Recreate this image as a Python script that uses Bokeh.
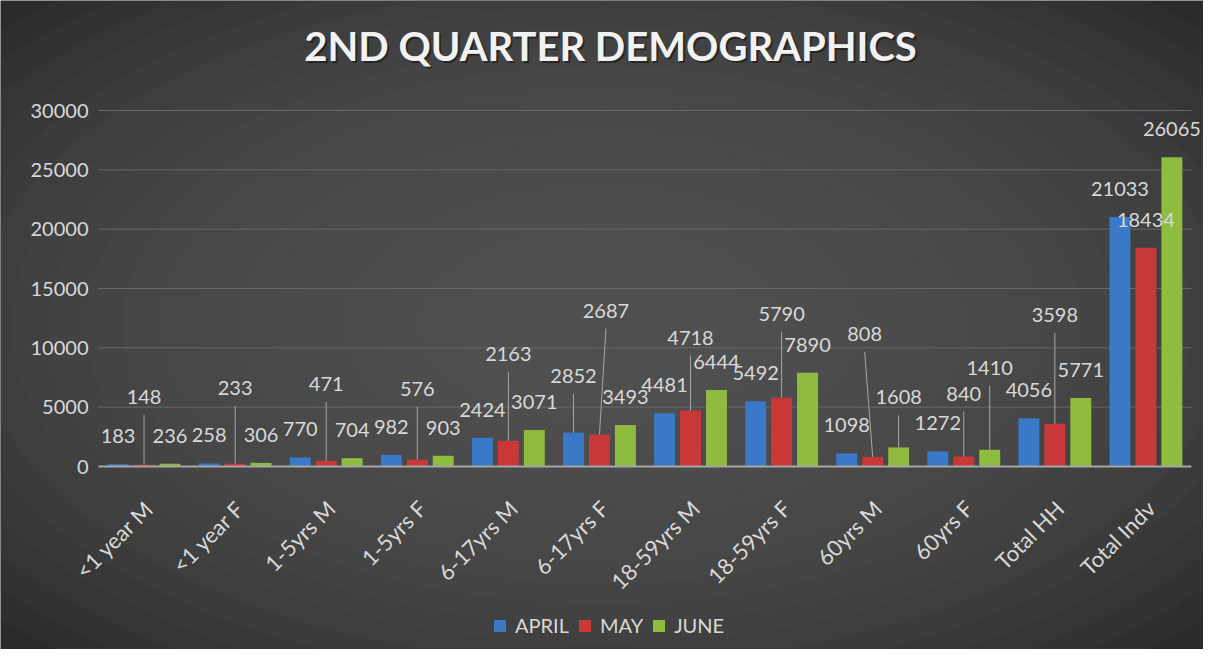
from math import pi
from bokeh.plotting import figure
from bokeh.models import ColumnDataSource, Range1d, LabelSet, Label, Legend, LegendItem
from bokeh.transform import dodge
from bokeh.core.properties import value
from bokeh.embed import file_html
from bokeh.resources import INLINE

# ---------------- data ----------------
categories = ["<1 year M", "<1 year F", "1-5yrs M", "1-5yrs F", "6-17yrs M", "6-17yrs F",
              "18-59yrs M", "18-59yrs F", "60yrs M", "60yrs F", "Total HH", "Total Indv"]
april = [183, 258, 770, 982, 2424, 2852, 4481, 5492, 1098, 1272, 4056, 21033]
may = [148, 233, 471, 576, 2163, 2687, 4718, 5790, 808, 840, 3598, 18434]
june = [236, 306, 704, 903, 3071, 3493, 6444, 7890, 1608, 1410, 5771, 26065]
series_names = ["APRIL", "MAY", "JUNE"]
y_ticks = [0, 5000, 10000, 15000, 20000, 25000, 30000]
y_tick_labels = [str(t) for t in y_ticks]
title_text = "2ND QUARTER DEMOGRAPHICS"

# ---------------- label placement (pixels above bar top / sideways shift) ----------------
lift_april = [28, 28, 28, 28, 28, 57, 28, 28, 28, 28, 28, 28]
lift_may = [68, 76, 77, 71, 87, 124, 73, 84, 123, 63, 109, 28]
lift_june = [28, 28, 28, 28, 28, 28, 28, 28, 50, 82, 28, 28]
shift_may = [0, 0, 0, 0, 0, 6.5, 0, 0, -8, 0, 0, 0]
shift_zero = [0] * 12

# ---------------- geometry / styles ----------------
colors = ["#3a78c8", "#c93838", "#8fbb3e"]
BG = "#2a2a2a"
GLOW = "#5a5a5a"
TXT = "#d9d9d9"
FONT = "Lato"
W, H = 1203, 649
CAT_PX = 91.08                      # pixel width of one category
X0_PX = 98                          # pixel column where the category span starts
Y_TOP_PX, Y_ZERO_PX = 110, 466      # pixel rows of the 30000 and 0 gridlines
N = len(categories)
YMAX = 30000
DPP = YMAX / (Y_ZERO_PX - Y_TOP_PX)  # data units per pixel (y)
CPP = 1.0 / CAT_PX                   # category units per pixel (x)
BAR_W = 0.23
OFFS = [-0.285, 0.0, 0.285]

p = figure(x_range=Range1d(-X0_PX * CPP, (W - X0_PX) * CPP),
           y_range=Range1d(-(H - Y_ZERO_PX) * DPP, YMAX + Y_TOP_PX * DPP),
           width=W, height=H, output_backend="svg", toolbar_location=None,
           x_axis_location=None, y_axis_location=None,
           min_border_left=0, min_border_right=0, min_border_top=0, min_border_bottom=0)
p.background_fill_color = BG
p.border_fill_color = BG
p.outline_line_color = None
p.xgrid.grid_line_color = None
p.ygrid.grid_line_color = None

# soft radial vignette of the chart background
K = 22
cx = (W / 2 - X0_PX) * CPP
cy = YMAX + (Y_TOP_PX - H / 2) * DPP
p.ellipse(x=[cx] * K, y=[cy] * K,
          width=[W * 1.35 * (K - k) / K * CPP for k in range(K)],
          height=[H * 1.35 * (K - k) / K * DPP for k in range(K)],
          fill_color=GLOW, fill_alpha=0.1, line_color=None)

centers = [i + 0.5 for i in range(N)]
src = ColumnDataSource(dict(xc=centers, APRIL=april, MAY=may, JUNE=june))

# horizontal gridlines over the category span
p.segment(x0=[0] * (len(y_ticks) - 1), x1=[N] * (len(y_ticks) - 1), y0=y_ticks[1:], y1=y_ticks[1:],
          line_color="#686868", line_width=1)

renderers = []
for name, col, off in zip(series_names, colors, OFFS):
    r = p.vbar(x=dodge("xc", off), top=name, width=BAR_W, source=src,
               fill_color=col, line_color=None)
    renderers.append(r)

# category axis line at zero
p.segment(x0=[0], x1=[N], y0=[0], y1=[0], line_color="#a6a6a6", line_width=2)

# value-axis tick labels
ysrc = ColumnDataSource(dict(x=[0] * len(y_ticks), y=y_ticks, t=y_tick_labels))
p.add_layout(LabelSet(x="x", y="y", text="t", source=ysrc, x_offset=-10,
                      text_align="right", text_baseline="middle", text_color=TXT,
                      text_font=value(FONT), text_font_size="20px"))

# category tick labels (rotated)
csrc = ColumnDataSource(dict(x=[c + 5 * CPP for c in centers], y=[0] * N, t=categories))
p.add_layout(LabelSet(x="x", y="y", text="t", source=csrc, y_offset=-38, angle=pi / 4,
                      text_align="right", text_baseline="middle", text_color=TXT,
                      text_font=value(FONT), text_font_size="22px"))

# data labels and leader lines
series_vals = [april, may, june]
lifts = [lift_april, lift_may, lift_june]
shifts = [shift_zero, shift_may, shift_zero]
for vals, lift, shift, off in zip(series_vals, lifts, shifts, OFFS):
    xs = [c + off + s * CPP for c, s in zip(centers, shift)]
    lsrc = ColumnDataSource(dict(x=xs, y=vals, t=[str(v) for v in vals], dy=lift))
    p.add_layout(LabelSet(x="x", y="y", text="t", y_offset="dy", source=lsrc,
                          text_align="center", text_baseline="middle",
                          text_color=TXT, text_font=value(FONT), text_font_size="20px"))
    x0, y0, x1, y1 = [], [], [], []
    for c, v, l, s in zip(centers, vals, lift, shift):
        if l > 35:
            x0.append(c + off + s * CPP)
            y0.append(v + (l - 18) * DPP)
            x1.append(c + off)
            y1.append(v)
    if x0:
        p.segment(x0=x0, y0=y0, x1=x1, y1=y1, line_color="#a6a6a6", line_width=1)

# title with soft shadow
tx = (610 - X0_PX) * CPP
ty = YMAX + (Y_TOP_PX - 45) * DPP
p.add_layout(Label(x=tx, y=ty, x_offset=2, y_offset=-2, text=title_text,
                   text_align="center", text_baseline="middle", text_color="#151515",
                   text_alpha=0.6, text_font=FONT, text_font_style="bold",
                   text_font_size="40px"))
p.add_layout(Label(x=tx, y=ty, text=title_text,
                   text_align="center", text_baseline="middle", text_color="#f2f2f2",
                   text_font=FONT, text_font_style="bold", text_font_size="40px"))

# legend
legend = Legend(items=[LegendItem(label=n, renderers=[r]) for n, r in zip(series_names, renderers)],
                location=(492, 12), orientation="horizontal",
                background_fill_alpha=0, border_line_color=None,
                label_text_color=TXT, label_text_font=FONT, label_text_font_size="20px",
                glyph_width=15, glyph_height=15, label_standoff=8, spacing=8,
                padding=0, margin=0)
p.add_layout(legend, "center")

open("out.html", "w").write(file_html(p, INLINE))
